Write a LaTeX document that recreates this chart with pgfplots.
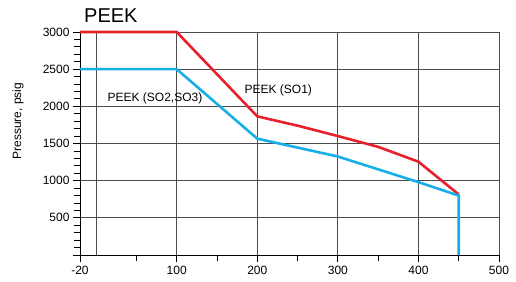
\documentclass[border=0pt]{standalone}
\usepackage{pgfplots}
\pgfplotsset{compat=1.18}
\usepackage{fontspec}
\setmainfont{Liberation Sans}
\definecolor{peekred}{HTML}{E8202A}
\definecolor{peekblue}{HTML}{18AEE8}
\begin{document}
\begin{tikzpicture}[x=1pt,y=1pt]
\useasboundingbox (-80,-26) rectangle (436,255);
\begin{axis}[
  at={(0,0)}, anchor=south west,
  scale only axis, width=419pt, height=223pt,
  xmin=-20, xmax=500, ymin=0, ymax=3000,
  axis lines=left,
  axis line style={-, black, line width=0.8pt},
  xtick={-20,100,200,300,400,500},
  xticklabels={-20,100,200,300,400,500},
  minor xtick={50,150,250,350,450},
  ytick={0,500,1000,1500,2000,2500,3000},
  yticklabels={,500,1000,1500,2000,2500,3000},
  minor ytick={100,200,300,400,600,700,800,900,1100,1200,1300,1400,1600,1700,1800,1900,2100,2200,2300,2400,2600,2700,2800,2900},
  tick align=outside,
  major tick length=7pt, minor tick length=5.5pt,
  tick style={black, line width=0.8pt},
  xmajorgrids=false,
  ymajorgrids=true,
  grid style={black!70, line width=0.9pt},
  every tick label/.style={font=\fontsize{12}{14}\selectfont},
  /pgf/number format/assume math mode=true,
  xticklabel style={yshift=-1pt},
  clip=false,
]
% vertical grid lines (0..500)
\addplot[black!70, line width=0.9pt, forget plot] coordinates {(0,0) (0,3000)};
\addplot[black!70, line width=0.9pt, forget plot] coordinates {(100,0) (100,3000)};
\addplot[black!70, line width=0.9pt, forget plot] coordinates {(200,0) (200,3000)};
\addplot[black!70, line width=0.9pt, forget plot] coordinates {(300,0) (300,3000)};
\addplot[black!70, line width=0.9pt, forget plot] coordinates {(400,0) (400,3000)};
\addplot[black!70, line width=0.9pt, forget plot] coordinates {(500,0) (500,3000)};
% PEEK (SO1)
\addplot[peekred, line width=2.6pt, line join=miter] coordinates {
  (-20,3000) (100,3000) (200,1865) (250,1740) (300,1600) (350,1455) (400,1255) (450,815)};
% PEEK (SO2,SO3)
\addplot[peekblue, line width=2.6pt, line join=miter] coordinates {
  (-20,2500) (100,2500) (200,1565) (300,1325) (400,980) (450,800) (450,0)};
\node[anchor=west, font=\fontsize{12}{14}\selectfont, inner sep=0pt] at (axis cs:14,2110) {PEEK (SO2,SO3)};
\node[anchor=west, font=\fontsize{12}{14}\selectfont, inner sep=0pt] at (axis cs:184,2220) {PEEK (SO1)};
\node[anchor=base west, font=\fontsize{20}{24}\selectfont, inner sep=0pt] at ([yshift=9.3pt]rel axis cs:0.0095,1) {PEEK};
\node[rotate=90, font=\fontsize{12}{14}\selectfont, inner sep=0pt] at ([xshift=-62pt]rel axis cs:0,0.6) {Pressure, psig};
\end{axis}
\end{tikzpicture}
\end{document}
